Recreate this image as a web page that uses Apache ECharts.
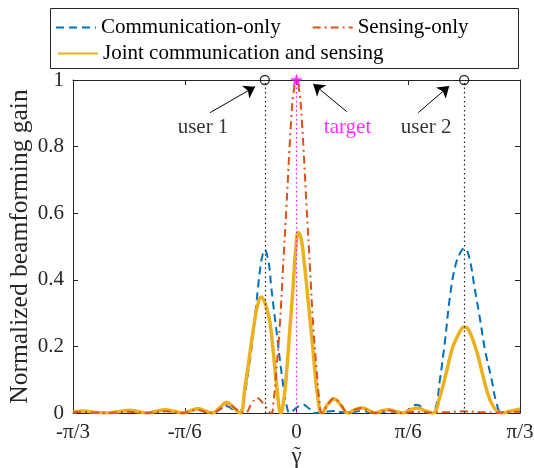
<!DOCTYPE html>
<html>
<head>
<meta charset="utf-8">
<script src="https://cdn.jsdelivr.net/npm/echarts@6.0.0/dist/echarts.min.js"></script>
<style>
  html, body { margin: 0; padding: 0; background: #fff; }
  #chart { width: 534px; height: 468px; }
</style>
</head>
<body>
<div id="chart"></div>
<script>
// Beam patterns over the angle axis (degrees, -60..60 = -pi/3..pi/3), gain normalized to 1.

// Communication-only beamformer: two main lobes toward user 1 and user 2
const commOnly = [
  [-60, 0.003], [-57, 0.004], [-54, 0.001], [-51, 0], [-48, 0.003], [-45, 0.006],
  [-42.5, 0.002], [-40, 0], [-37.5, 0.004], [-35, 0.007], [-32.8, 0.003], [-30.5, 0],
  [-28.5, 0.005], [-26.5, 0.01], [-24.5, 0.005], [-22.5, 0], [-20.5, 0.011], [-18.8, 0.02],
  [-17, 0.01], [-15.4, 0], [-14.3, 0.035], [-13, 0.12], [-11.7, 0.23], [-10.3, 0.38],
  [-9.8, 0.43], [-9.2, 0.47], [-8.5, 0.49], [-7.8, 0.47], [-7.2, 0.43], [-6.8, 0.38],
  [-5.3, 0.24], [-4, 0.12], [-2.6, 0.02], [-1.8, 0], [-0.8, 0.008], [0.5, 0.02],
  [1.8, 0.025], [3.2, 0.015], [5.0, 0], [7.5, 0.003], [9.8, 0.006], [12, 0.003],
  [13.8, 0], [15.8, 0.004], [17.5, 0.007], [19.3, 0.003], [21.1, 0], [23, 0.003],
  [25, 0.005], [26.8, 0.002], [28.6, 0], [30.5, 0.014], [32.3, 0.025], [34, 0.014],
  [35.8, 0], [37.2, 0.01], [38.5, 0.1], [39.9, 0.22], [41.2, 0.35], [42.6, 0.44],
  [43.9, 0.48], [45.1, 0.495], [46.3, 0.47], [47.9, 0.37], [49.3, 0.28], [50.6, 0.19],
  [52.4, 0.1], [53.7, 0.03], [55.1, 0], [57.5, 0.004], [60, 0.01]
];

// Sensing-only beamformer: single main lobe toward the target
const sensingOnly = [
  [-60, 0.002], [-57, 0.003], [-54, 0.001], [-51, 0], [-48, 0.002], [-45, 0.004],
  [-42.5, 0.001], [-40, 0], [-37.5, 0.003], [-35, 0.005], [-32.8, 0.002], [-30.5, 0],
  [-28.7, 0.005], [-26.9, 0.01], [-24.8, 0.004], [-22.7, 0], [-20.4, 0.013], [-18.2, 0.025],
  [-16, 0.01], [-13.8, 0], [-12.2, 0.025], [-10.6, 0.045], [-8.9, 0.028], [-6.8, 0],
  [-6.2, 0.03], [-5.4, 0.13], [-4.5, 0.26], [-3.6, 0.44], [-2.7, 0.62], [-1.4, 0.885],
  [-0.7, 0.97], [0, 1], [0.7, 0.97], [1.4, 0.885], [2.7, 0.62], [3.6, 0.44],
  [4.5, 0.26], [5.4, 0.13], [6.2, 0.03], [6.8, 0], [8.4, 0.025], [10.1, 0.045],
  [11.9, 0.025], [13.8, 0], [15.7, 0.01], [17.6, 0.015], [19.4, 0.007], [21.1, 0],
  [22.9, 0.005], [24.6, 0.008], [26.6, 0.004], [28.6, 0], [31, 0.003], [34, 0.002],
  [37, 0.001], [41, 0.003], [45, 0.005], [49, 0.003], [53, 0.001], [57, 0.003], [60, 0.004]
];

// Joint communication and sensing beamformer
const jointCS = [
  [-60, 0.004], [-57.3, 0.006], [-54, 0.002], [-50.9, 0], [-47.9, 0.004], [-44.7, 0.008],
  [-42.4, 0.004], [-40.1, 0], [-37.7, 0.005], [-35.3, 0.01], [-32.9, 0.005], [-30.5, 0],
  [-28.4, 0.007], [-26.4, 0.013], [-24.4, 0.006], [-22.6, 0], [-20.6, 0.016], [-18.7, 0.032],
  [-16.9, 0.016], [-15.2, 0], [-13.8, 0.08], [-12.5, 0.18], [-11.2, 0.28], [-10.3, 0.33],
  [-9.5, 0.348], [-8.7, 0.337], [-7.9, 0.31], [-7.1, 0.27], [-6.2, 0.18], [-5.3, 0.08],
  [-4.2, 0], [-3.3, 0.05], [-2.6, 0.13], [-1.8, 0.25], [-0.9, 0.38], [-0.3, 0.48],
  [0.5, 0.542], [1.2, 0.525], [1.8, 0.48], [3.2, 0.33], [4.5, 0.18], [5.9, 0.03],
  [6.8, 0], [8.3, 0.025], [10.1, 0.042], [12, 0.022], [13.8, 0], [15.7, 0.01],
  [17.6, 0.015], [19.4, 0.008], [21.1, 0], [22.8, 0.006], [24.6, 0.01], [26.6, 0.005],
  [28.6, 0], [30.5, 0.009], [32.3, 0.015], [34.3, 0.008], [36.6, 0], [38.5, 0.05],
  [40.4, 0.13], [42, 0.2], [43.9, 0.245], [45, 0.258], [46.3, 0.248], [48.5, 0.18],
  [50.1, 0.11], [51.9, 0.04], [53.8, 0.005], [54.9, 0], [57.3, 0.005], [60, 0.012]
];

// User and target directions
const userAngles = [-8.5, 45];
const targetAngles = [0];

// Axis ticks
const xTickValues = [-60, -30, 0, 30, 60];
const xTickLabels = ['-\u03c0/3', '-\u03c0/6', '0', '\u03c0/6', '\u03c0/3'];
const yTickValues = [0, 0.2, 0.4, 0.6, 0.8, 1];
const yTickLabels = ['0', '0.2', '0.4', '0.6', '0.8', '1'];

const seriesNames = ['Communication-only', 'Sensing-only', 'Joint communication and sensing'];

const FONT = "'Liberation Serif', 'Times New Roman', serif";
const AXIS = '#262626';
const STAR = 'path://M0,-10 L2.35,-3.24 L9.51,-3.09 L3.8,1.24 L5.88,8.09 L0,4 L-5.88,8.09 L-3.8,1.24 L-9.51,-3.09 L-2.35,-3.24 Z';

const chart = echarts.init(document.getElementById('chart'), null, { renderer: 'canvas' });

function boxAxis(extra) {
  return Object.assign({
    type: 'value',
    nameMoveOverlap: false,
    axisLine: { show: true, onZero: false, lineStyle: { color: AXIS, width: 1 } },
    axisTick: { show: true, inside: true, length: 5, lineStyle: { color: AXIS, width: 1 } },
    splitLine: { show: false }
  }, extra);
}

const labelFont = { fontFamily: FONT, fontSize: 21, color: AXIS };
const legendCommon = {
  padding: 0, itemWidth: 40, itemHeight: 14, selectedMode: false, z: 5,
  itemStyle: { opacity: 0 },
  textStyle: { fontFamily: FONT, fontSize: 21, color: '#000' }
};

const option = {
  animation: false,
  backgroundColor: '#fff',
  grid: { left: 73, right: 14, top: 80, bottom: 55, containLabel: false, outerBoundsMode: 'none' },
  graphic: [{
    type: 'rect', z: 0,
    shape: { x: 50.5, y: 8.5, width: 468, height: 60 },
    style: { fill: '#fff', stroke: AXIS, lineWidth: 1 }
  }],
  legend: [
    Object.assign({ data: [seriesNames[0], seriesNames[1]], left: 55, top: 17, itemGap: 31 }, legendCommon),
    Object.assign({ data: [seriesNames[2]], left: 57, top: 43 }, legendCommon)
  ],
  xAxis: [
    boxAxis({
      position: 'bottom', min: -60, max: 60, interval: 30,
      axisLabel: Object.assign({ margin: 9, formatter: v => xTickLabels[xTickValues.indexOf(v)] }, labelFont),
      // gamma with a tilde accent: both lines nearly share one baseline
      name: '{t|\u02dc}\n{g|\u03b3}', nameLocation: 'middle', nameGap: 41,
      nameTextStyle: {
        fontFamily: FONT, color: AXIS, align: 'center', verticalAlign: 'top',
        rich: {
          t: { fontFamily: FONT, fontSize: 22, lineHeight: 2, color: AXIS, padding: [0, 0, 0, 1] },
          g: { fontFamily: FONT, fontSize: 23, lineHeight: 2, color: AXIS }
        }
      }
    }),
    boxAxis({ position: 'top', min: -60, max: 60, interval: 30, axisLabel: { show: false } })
  ],
  yAxis: [
    boxAxis({
      position: 'left', min: 0, max: 1, interval: 0.2,
      axisLabel: Object.assign({ margin: 9, formatter: v => yTickLabels[yTickValues.findIndex(t => Math.abs(t - v) < 1e-9)] }, labelFont),
      name: 'Normalized beamforming gain', nameLocation: 'middle', nameGap: 40,
      nameTextStyle: { fontFamily: FONT, fontSize: 25.5, color: AXIS }
    }),
    boxAxis({ position: 'right', min: 0, max: 1, interval: 0.2, axisLabel: { show: false } })
  ],
  series: [
    {
      name: seriesNames[0], type: 'line', data: commOnly, smooth: 0.45,
      symbol: 'none', z: 2,
      lineStyle: { color: '#0072BD', width: 2, type: [8, 5] },
      itemStyle: { color: '#0072BD' }
    },
    {
      name: seriesNames[2], type: 'line', data: jointCS, smooth: 0.45,
      symbol: 'none', z: 3,
      lineStyle: { color: '#EDB120', width: 3.5 },
      itemStyle: { color: '#EDB120' }
    },
    {
      name: seriesNames[1], type: 'line', data: sensingOnly, smooth: 0.45,
      symbol: 'none', z: 4,
      lineStyle: { color: '#D95319', width: 2, type: [8, 4, 2, 4] },
      itemStyle: { color: '#D95319' }
    },
    {
      name: 'users', type: 'scatter', clip: false, z: 6,
      data: userAngles.map(a => [a, 1]),
      symbol: 'circle', symbolSize: 9,
      itemStyle: { color: 'rgba(255,255,255,0)', borderColor: '#000', borderWidth: 1.3 },
      markLine: {
        silent: true, symbol: 'none', label: { show: false },
        lineStyle: { color: '#222', width: 1.2, type: [1.5, 3] },
        data: userAngles.map(a => [{ coord: [a, 0] }, { coord: [a, 1] }])
      }
    },
    {
      name: 'target', type: 'scatter', clip: false, z: 6,
      data: targetAngles.map(a => [a, 1]),
      symbol: STAR, symbolSize: 13,
      itemStyle: { color: '#FF00FF' },
      markLine: {
        silent: true, symbol: 'none', label: { show: false },
        lineStyle: { color: '#FF00FF', width: 1.2, type: [1.5, 3] },
        data: targetAngles.map(a => [{ coord: [a, 0] }, { coord: [a, 1] }])
      }
    },
    {
      name: 'notes', type: 'scatter', clip: false, z: 7,
      symbolSize: 0,
      data: [
        { name: 'user 1', value: [-25.1, 0.856], label: { color: '#000' } },
        { name: 'target', value: [13.7, 0.856], label: { color: '#FF00FF' } },
        { name: 'user 2', value: [34.8, 0.856], label: { color: '#000' } }
      ],
      label: { show: true, position: 'inside', formatter: '{b}', fontFamily: FONT, fontSize: 21 },
      markLine: {
        silent: true, symbol: ['none', 'arrow'], symbolSize: 11,
        label: { show: false },
        lineStyle: { color: '#000', width: 1, type: 'solid' },
        data: [
          [{ coord: [-23.2, 0.902] }, { coord: [-11.1, 0.98] }],
          [{ coord: [13.5, 0.905] }, { coord: [4.5, 0.988] }],
          [{ coord: [32.7, 0.902] }, { coord: [41.0, 0.982] }]
        ]
      }
    }
  ]
};

chart.setOption(option);
</script>
</body>
</html>
